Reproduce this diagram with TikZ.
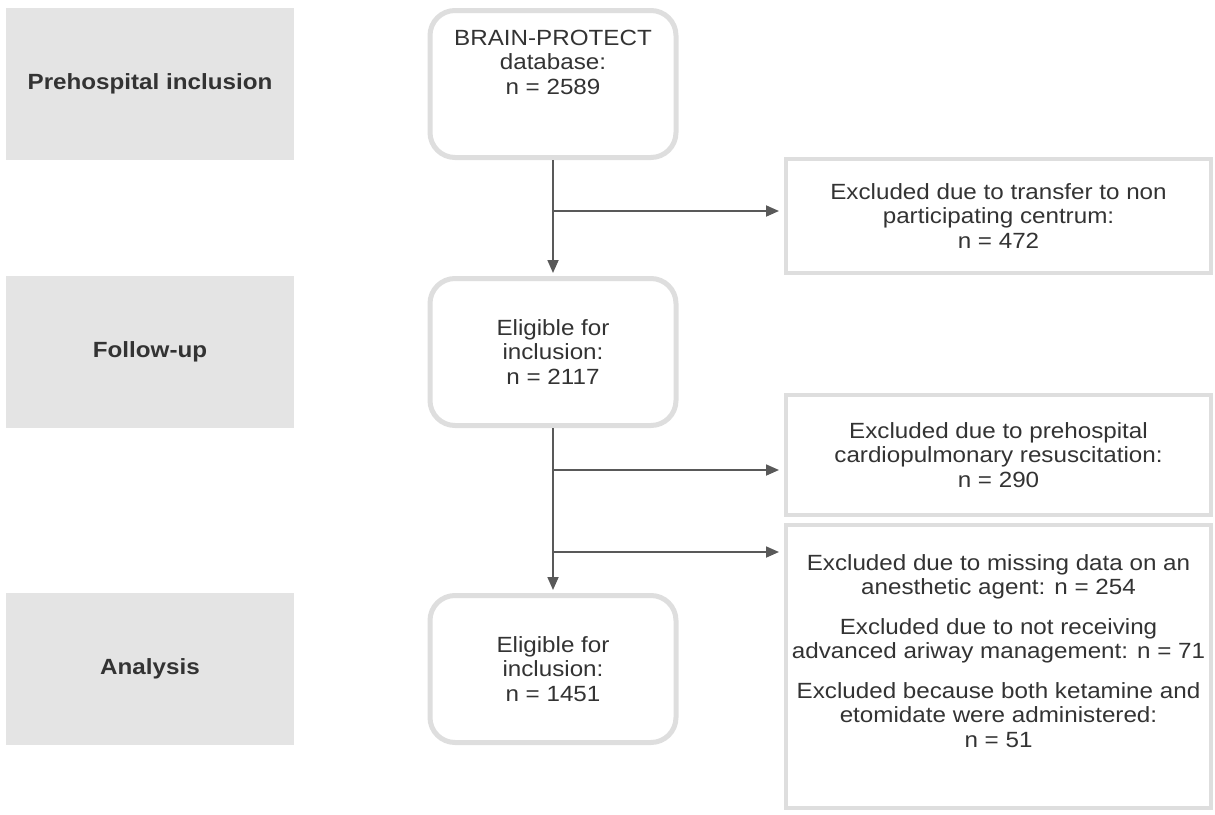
\documentclass[tikz,border=0pt]{standalone}
\usepackage{fontspec}
\setmainfont[FakeStretch=1.1]{Liberation Sans}
\usetikzlibrary{arrows.meta}
\definecolor{phasegray}{HTML}{E4E4E4}
\definecolor{boxline}{HTML}{DEDEDE}
\definecolor{arrowgray}{HTML}{595959}
\definecolor{textgray}{HTML}{333333}
\tikzstyle{phase} = [rectangle, minimum width=288pt, minimum height=152pt, inner sep=0pt, text centered, fill=phasegray, text=textgray, font=\fontsize{22}{24.5}\selectfont\bfseries]
\tikzstyle{countbox} = [rectangle, rounded corners=25pt, minimum width=246pt, minimum height=147pt, inner sep=0pt, align=center, draw=boxline, line width=5pt, fill=white, text=textgray, font=\fontsize{22}{24.5}\selectfont]
\tikzstyle{exclbox} = [rectangle, minimum width=425pt, inner sep=0pt, align=center, draw=boxline, line width=4pt, fill=white, text=textgray, font=\fontsize{22}{24.5}\selectfont]
\tikzstyle{arrow} = [-{Triangle[length=13pt,width=11pt]}, line width=1.8pt, draw=arrowgray, fill=arrowgray]

\begin{document}
\begin{tikzpicture}[x=1pt, y=-1pt]
		\useasboundingbox (0,0) rectangle (1215,814);
		\node (brain) [countbox] at (553,84) {BRAIN-PROTECT\\database:\\n = 2589\\[19.5pt]\mbox{}};
		\node (elig1) [countbox, below of=brain, node distance=268pt] {Eligible for\\inclusion:\\n = 2117};
		\node (elig2) [countbox, below of=elig1, node distance=317pt] {Eligible for\\inclusion:\\n = 1451};
		\node (pre) [phase, left of=brain, node distance=403pt] {Prehospital inclusion};
		\node (follow) [phase, left of=elig1, node distance=403pt] {Follow-up};
		\node (analysis) [phase, left of=elig2, node distance=403pt] {Analysis};
		\node (excl1) [exclbox, minimum height=114pt] at (998.5,216) {Excluded due to transfer to non\\participating centrum:\\n = 472};
		\node (excl2) [exclbox, minimum height=120pt] at (998.5,455) {Excluded due to prehospital\\cardiopulmonary resuscitation:\\n = 290};
		\node (excl3) [exclbox, minimum height=283pt] at (998.5,666.5) {Excluded due to missing data on an\\anesthetic agent: n = 254\\[15pt]Excluded due to not receiving\\advanced ariway management: n = 71\\[15pt]Excluded because both ketamine and\\etomidate were administered:\\n = 51\\[7pt]\mbox{}};

		\coordinate (br1) at (553,211);
		\coordinate (br2) at (553,470);
		\coordinate (br3) at (553,552);

		\draw [arrow, shorten >=3pt](brain) -- (elig1);
		\draw [arrow, shorten >=3pt](elig1) -- (elig2);
		\draw [arrow, shorten >=5pt](br1) -- (br1 -| excl1.west);
		\draw [arrow, shorten >=5pt](br2) -- (br2 -| excl2.west);
		\draw [arrow, shorten >=5pt](br3) -- (br3 -| excl3.west);
	\end{tikzpicture}
\end{document}
